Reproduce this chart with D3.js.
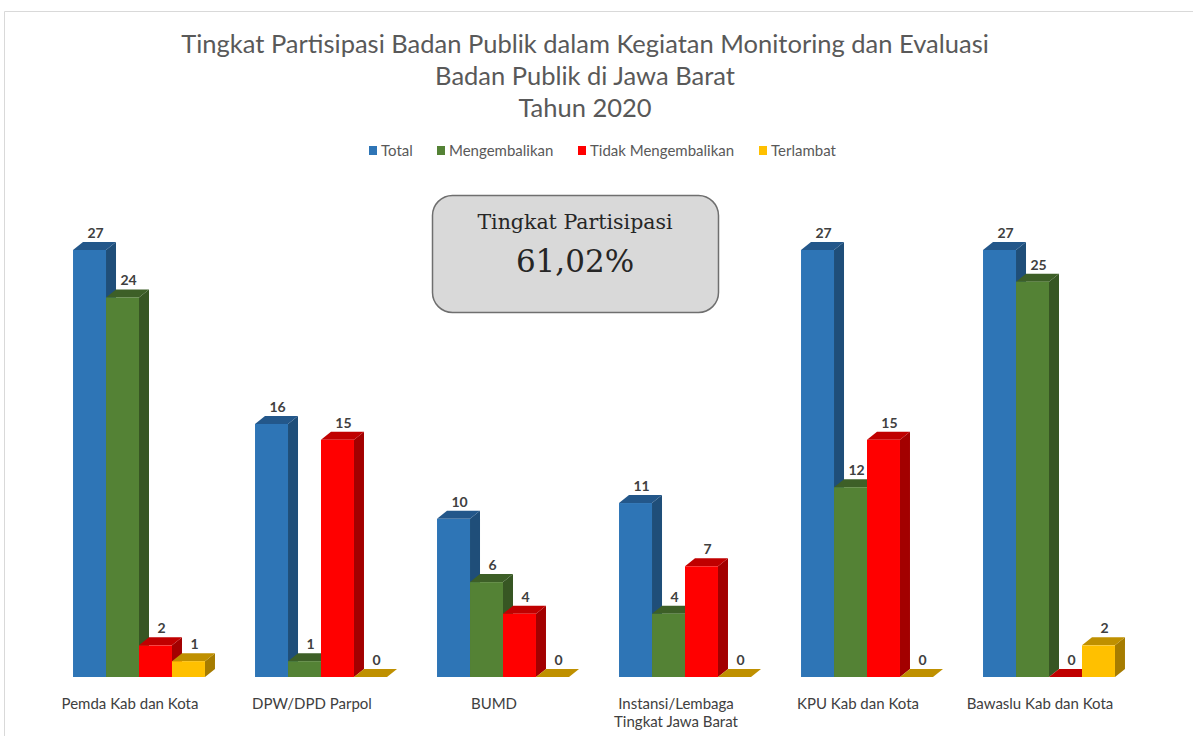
<!DOCTYPE html>
<html>
<head>
<meta charset="utf-8">
<script src="https://cdn.jsdelivr.net/npm/d3@7"></script>
<style>
  body { margin: 0; background: #fff; }
  svg { display: block; }
</style>
</head>
<body>
<main></main>
<script>
const WIDTH = 1193
const HEIGHT = 736

// data
const categories = ['Pemda Kab dan Kota', 'DPW/DPD Parpol', 'BUMD', 'Instansi/Lembaga Tingkat Jawa Barat', 'KPU Kab dan Kota', 'Bawaslu Kab dan Kota']
const seriesNames = ['Total', 'Mengembalikan', 'Tidak Mengembalikan', 'Terlambat']
const total = [27, 16, 10, 11, 27, 27]
const mengembalikan = [24, 1, 6, 4, 12, 25]
const tidakMengembalikan = [2, 15, 4, 7, 15, 0]
const terlambat = [1, 0, 0, 0, 0, 2]
const titleLines = ['Tingkat Partisipasi Badan Publik dalam Kegiatan Monitoring dan Evaluasi', 'Badan Publik di Jawa Barat', 'Tahun 2020']
const boxLines = ['Tingkat Partisipasi', '61,02%']

const seriesValues = [total, mengembalikan, tidakMengembalikan, terlambat]
// front, side, top
const colors = [
  ['#2e75b6', '#1f4e79', '#23578a'],
  ['#548235', '#375623', '#3d5f27'],
  ['#ff0000', '#a30000', '#c00000'],
  ['#ffc000', '#a67c00', '#bf9000']
]

const DX = 10, DY = 8

const svg = d3.select('main').append('svg')
  .attr('width', WIDTH)
  .attr('height', HEIGHT)

// chart frame
svg.append('path')
  .attr('d', `M4.5,${HEIGHT} L4.5,11.5 L${WIDTH},11.5`)
  .attr('fill', 'none')
  .attr('stroke', '#d9d9d9')
  .attr('stroke-width', 1)

// title
svg.append('g').selectAll('text')
  .data(titleLines)
  .enter()
  .append('text')
  .attr('x', 585)
  .attr('y', (d, i) => 53 + i * 32)
  .attr('text-anchor', 'middle')
  .style('font-family', 'Lato, "Open Sans", sans-serif')
  .style('font-size', '25.5px')
  .style('fill', '#595959')
  .text(d => d)

// legend
const legendX = [369, 437, 578, 759]
const legend = svg.append('g').selectAll('g')
  .data(seriesNames)
  .enter()
  .append('g')
  .attr('transform', (d, i) => `translate(${legendX[i]},0)`)
legend.append('rect')
  .attr('x', 0).attr('y', 146)
  .attr('width', 8).attr('height', 9)
  .attr('fill', (d, i) => colors[i][0])
legend.append('text')
  .attr('x', 12).attr('y', 156)
  .style('font-family', 'Lato, sans-serif')
  .style('font-size', '15px')
  .style('fill', '#595959')
  .text(d => d)

// scales
const x = d3.scaleBand()
  .domain(categories)
  .range([48, 1140])
  .paddingInner(0.275)
  .paddingOuter(0.1375)

const xs = d3.scaleBand()
  .domain(seriesNames)
  .range([0, x.bandwidth()])

const y = d3.scaleLinear()
  .domain([0, 27])
  .range([677, 250])

// build bar list
const bars = []
categories.forEach((c, ci) => {
  seriesNames.forEach((s, si) => {
    bars.push({cat: c, series: s, si: si, value: seriesValues[si][ci]})
  })
})

const barG = svg.append('g')
bars.forEach(b => {
  const x0 = x(b.cat) + xs(b.series)
  const w = xs.bandwidth()
  const yt = y(b.value)
  const yb = y(0)
  const g = barG.append('g')
  if (b.value > 0) {
    g.append('polygon')
      .attr('points', [[x0 + w, yt], [x0 + w + DX, yt - DY], [x0 + w + DX, yb - DY], [x0 + w, yb]].join(' '))
      .attr('fill', colors[b.si][1])
  }
  g.append('polygon')
    .attr('points', [[x0, yt], [x0 + DX, yt - DY], [x0 + w + DX, yt - DY], [x0 + w, yt]].join(' '))
    .attr('fill', colors[b.si][2])
  if (b.value > 0) {
    g.append('rect')
      .attr('x', x0)
      .attr('y', yt)
      .attr('width', w)
      .attr('height', yb - yt)
      .attr('fill', colors[b.si][0])
  }
})

// value labels
svg.append('g').selectAll('text')
  .data(bars)
  .enter()
  .append('text')
  .attr('x', d => x(d.cat) + xs(d.series) + xs.bandwidth() / 2 + 6)
  .attr('y', d => y(d.value) - DY - 4)
  .attr('text-anchor', 'middle')
  .style('font-family', 'Lato, sans-serif')
  .style('font-weight', 'bold')
  .style('font-size', '14px')
  .style('fill', '#404040')
  .text(d => d.value)

// category labels
const catG = svg.append('g').selectAll('text')
  .data(categories)
  .enter()
  .append('text')
  .attr('text-anchor', 'middle')
  .style('font-family', 'Lato, sans-serif')
  .style('font-size', '15px')
  .style('fill', '#404040')
catG.each(function (d) {
  const cx = x(d) + x.bandwidth() / 2 - 9
  const lines = d === 'Instansi/Lembaga Tingkat Jawa Barat' ? ['Instansi/Lembaga', 'Tingkat Jawa Barat'] : [d]
  d3.select(this).selectAll('tspan')
    .data(lines)
    .enter()
    .append('tspan')
    .attr('x', cx)
    .attr('y', (l, i) => 709 + i * 18)
    .text(l => l)
})

// participation box
const box = svg.append('g')
box.append('rect')
  .attr('x', 432.5).attr('y', 195.5)
  .attr('width', 286).attr('height', 117)
  .attr('rx', 20).attr('ry', 20)
  .attr('fill', '#d9d9d9')
  .attr('stroke', '#6f6f6f')
  .attr('stroke-width', 1.5)
box.selectAll('text')
  .data(boxLines)
  .enter()
  .append('text')
  .attr('x', 575)
  .attr('y', (d, i) => i === 0 ? 229 : 272)
  .attr('text-anchor', 'middle')
  .style('font-family', '"DejaVu Serif", serif')
  .style('font-size', (d, i) => i === 0 ? '20.5px' : '31px')
  .style('fill', '#262626')
  .text(d => d)
</script>
</body>
</html>
